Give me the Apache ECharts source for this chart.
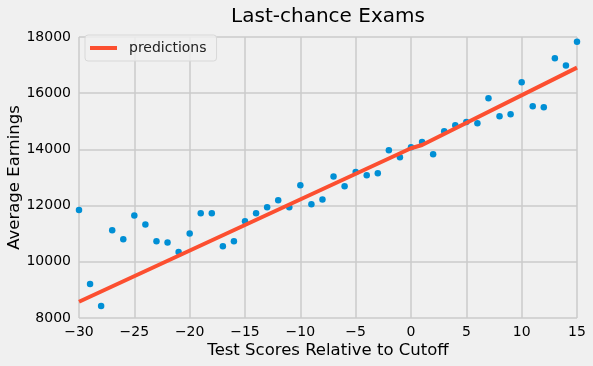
<!DOCTYPE html>
<html>
<head>
<meta charset="utf-8">
<script src="https://cdn.jsdelivr.net/npm/echarts@6/dist/echarts.min.js"></script>
<style>
html,body{margin:0;padding:0;background:#f0f0f0;}
#c{width:593px;height:366px;}
</style>
</head>
<body>
<div id="c"></div>
<script>
const scores = [-30,-29,-28,-27,-26,-25,-24,-23,-22,-21,-20,-19,-18,-17,-16,-15,-14,-13,-12,-11,-10,-9,-8,-7,-6,-5,-4,-3,-2,-1,0,1,2,3,4,5,6,7,8,9,10,11,12,13,14,15];
const earnings = [11840,9210,8430,11120,10800,11650,11330,10730,10690,10350,11010,11725,11725,10550,10730,11440,11725,11940,12190,11940,12720,12050,12220,13040,12690,13195,13080,13150,13970,13720,14075,14260,13825,14645,14855,14975,14930,15820,15180,15250,16390,15535,15500,17240,16990,17830];
const predX = [-30, 0, 1, 15];
const predY = [8580, 14040, 14155, 16910];
const xTicks = [-30,-25,-20,-15,-10,-5,0,5,10,15];
const yTicks = [8000,10000,12000,14000,16000,18000];

const chart = echarts.init(document.getElementById('c'), null, {renderer:'canvas'});
const font = 'DejaVu Sans';
chart.setOption({
  backgroundColor:'#f0f0f0',
  animation:false,
  textStyle:{fontFamily:font},
  title:{text:'Last-chance Exams', left:323, top:2, textAlign:'center',
    textStyle:{fontFamily:font, fontSize:20, fontWeight:'normal', color:'#000'}},
  legend:{
    data:[{name:'predictions', icon:'rect'}],
    left:85, top:35, padding:[6,10,6,5],
    itemWidth:27, itemHeight:4, itemGap:10,
    backgroundColor:'rgba(240,240,240,0.8)', borderColor:'#d8d8d8', borderWidth:1, borderRadius:3,
    textStyle:{fontFamily:font, fontSize:14, color:'#222', padding:[0,0,0,7]}
  },
  grid:{left:79, right:16, top:37, bottom:48, containLabel:false, outerBoundsMode:'none'},
  xAxis:{
    type:'value', min:-30, max:15, interval:5,
    name:'Test Scores Relative to Cutoff', nameLocation:'middle', nameGap:24, nameMoveOverlap:false,
    nameTextStyle:{fontFamily:font, fontSize:16.5, color:'#000'},
    axisLine:{show:false}, axisTick:{show:false},
    axisLabel:{fontFamily:font, fontSize:14, color:'#000', margin:7,
      formatter:v=>xTicks.includes(v)?String(v).replace('-','\u2212'):''},
    splitLine:{show:true, lineStyle:{color:'#cbcbcb', width:1.5}}
  },
  yAxis:{
    type:'value', min:8000, max:18000, interval:2000,
    name:'Average Earnings', nameLocation:'middle', nameGap:56, nameRotate:90, nameMoveOverlap:false,
    nameTextStyle:{fontFamily:font, fontSize:16.5, color:'#000'},
    axisLine:{show:false}, axisTick:{show:false},
    axisLabel:{fontFamily:font, fontSize:14, color:'#000', margin:8,
      formatter:v=>yTicks.includes(v)?String(v):''},
    splitLine:{show:true, lineStyle:{color:'#cbcbcb', width:1.5}}
  },
  series:[
    {type:'scatter', name:'data', data:scores.map((x,i)=>[x,earnings[i]]),
     symbolSize:6.5, itemStyle:{color:'#008fd5', opacity:1}, clip:true, z:3},
    {type:'line', name:'predictions', data:predX.map((x,i)=>[x,predY[i]]),
     showSymbol:false, symbol:'none', lineStyle:{color:'#fc4f30', width:4},
     itemStyle:{color:'#fc4f30'}, z:4, clip:true}
  ]
});
</script>
</body>
</html>
